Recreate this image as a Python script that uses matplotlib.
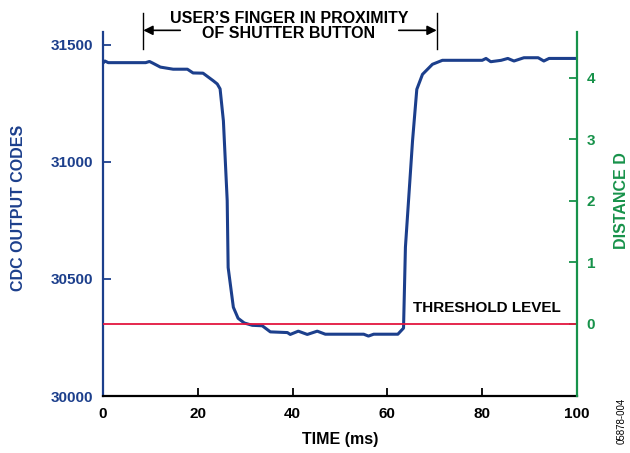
import matplotlib
matplotlib.use("Agg")
import matplotlib.pyplot as plt

plt.rcParams['font.family'] = ['Liberation Sans', 'DejaVu Sans']
plt.rcParams['font.weight'] = 'bold'
plt.rcParams['font.size'] = 11

BLUE = '#1c3f8c'
GREEN = '#17924a'
RED = '#e3163f'

# CDC output vs time
time_ms = [0, 0.4, 1.1, 7.8, 9.0, 9.8, 10.5, 12.1, 14.8, 17.8, 19.0, 21.1,
           23.3, 24.1, 24.7, 25.4, 26.2, 26.4, 27.5, 28.5, 29.8, 31.5, 33.6,
           35.3, 38.9, 39.5, 41.2, 43.1, 45.2, 46.9, 55.0, 56.0, 57.1, 62.2,
           63.4, 63.8, 65.3, 66.2, 67.4, 69.5, 71.6, 80.0, 80.8, 81.8, 84.0,
           85.4, 86.7, 88.8, 91.8, 93.0, 94.1, 100]
cdc_codes = [31422, 31431, 31424, 31424, 31424, 31429, 31422, 31405, 31396,
             31396, 31380, 31379, 31346, 31333, 31312, 31175, 30835, 30549,
             30379, 30332, 30312, 30302, 30300, 30274, 30271, 30263, 30277,
             30263, 30277, 30264, 30264, 30256, 30264, 30264, 30290, 30636,
             31090, 31310, 31374, 31417, 31434, 31434, 31442, 31428, 31434,
             31442, 31431, 31445, 31445, 31431, 31442, 31442]

threshold = 0
left_ticks = [30000, 30500, 31000, 31500]
right_ticks = [0, 1, 2, 3, 4]
x_ticks = [0, 20, 40, 60, 80, 100]

fig = plt.figure(figsize=(6.3, 4.53), dpi=100)
ax = fig.add_axes([0.1635, 0.1258, 0.7524, 0.8036])
ax2 = ax.twinx()

ax.plot(time_ms, cdc_codes, color=BLUE, lw=2.2, solid_joinstyle='round')
ax2.axhline(threshold, color=RED, lw=1.3)

ax.set_xlim(0, 100)
ax.set_ylim(30000, 31555)
ax2.set_ylim(-1.17, 4.74)
ax.set_xticks(x_ticks)
ax.set_yticks(left_ticks)
ax2.set_yticks(right_ticks)

for s in ['top', 'right']:
    ax.spines[s].set_visible(False)
for s in ['top', 'left', 'bottom']:
    ax2.spines[s].set_visible(False)
ax.spines['left'].set_color(BLUE)
ax.spines['left'].set_linewidth(1.6)
ax.spines['bottom'].set_linewidth(1.6)
ax2.spines['right'].set_color(GREEN)
ax2.spines['right'].set_linewidth(1.6)

ax.tick_params(axis='x', direction='in', length=6, width=1.3, pad=8, labelsize=11)
ax.tick_params(axis='y', direction='in', length=6, width=1.3, pad=7,
               colors=BLUE, labelsize=11)
ax2.tick_params(axis='y', direction='in', length=6, width=1.3, pad=7,
                colors=GREEN, labelsize=11)
for t in ax.get_xticklabels() + ax.get_yticklabels() + ax2.get_yticklabels():
    t.set_fontweight('bold')

ax.set_xlabel('TIME (ms)', fontweight='bold', fontsize=11.5, labelpad=8)
ax.set_ylabel('CDC OUTPUT CODES', color=BLUE, fontweight='bold', fontsize=11.5)
ax.yaxis.set_label_coords(-0.162, 0.516)
ax2.set_ylabel('DISTANCE D', color=GREEN, fontweight='bold', fontsize=11.5)
ax2.yaxis.set_label_coords(1.078, 0.536)

ax.text(65.5, 30377, 'THRESHOLD LEVEL', fontweight='bold', va='center', ha='left')

# bracket above the plot
for xb in [8.4, 70.5]:
    ax.plot([xb, xb], [31482, 31635], color='black', lw=1.0, clip_on=False)
ax.annotate('', xy=(8.5, 31562), xytext=(16.3, 31562),
            arrowprops=dict(arrowstyle='-|>', color='black', lw=1.2,
                            mutation_scale=14, shrinkA=0, shrinkB=0),
            annotation_clip=False)
ax.annotate('', xy=(70.4, 31562), xytext=(62.4, 31562),
            arrowprops=dict(arrowstyle='-|>', color='black', lw=1.2,
                            mutation_scale=14, shrinkA=0, shrinkB=0),
            annotation_clip=False)
ax.text(39.2, 31581, "USER’S FINGER IN PROXIMITY\nOF SHUTTER BUTTON",
        ha='center', va='center', fontweight='bold', fontsize=11.5,
        linespacing=1.0)

fig.text(0.987, 0.07, '05878-004', rotation=90, fontsize=7,
         fontweight='normal', ha='center', va='center')

fig.savefig('out.png', dpi=100)
